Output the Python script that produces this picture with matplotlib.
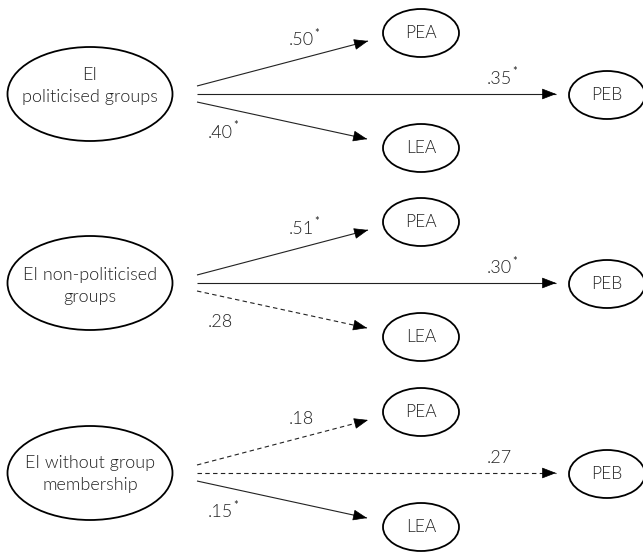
import matplotlib
matplotlib.use("Agg")
import matplotlib.pyplot as plt
from matplotlib.patches import Ellipse

# path coefficients per model
groups = ["EI\npoliticised groups", "EI non-politicised\ngroups", "EI without group\nmembership"]
targets = ["PEA", "PEB", "LEA"]
pea = [0.50, 0.51, 0.18]
peb = [0.35, 0.30, 0.27]
lea = [0.40, 0.28, 0.15]
pea_sig = [True, True, False]
peb_sig = [True, True, False]
lea_sig = [True, False, True]

INK = "#222222"
TXT = "#222222"
FONT = "Lato"
WT = 300

fig = plt.figure(figsize=(6.43, 5.6), dpi=100)
ax = fig.add_axes([0, 0, 1, 1])
ax.set_xlim(0, 643)
ax.set_ylim(560, 0)
ax.axis("off")


def fmt(v):
    return ("%.2f" % v).lstrip("0")


def coef_label(x_right, y, value, sig):
    ax.text(x_right, y, fmt(value), ha="right", va="center", fontsize=13,
            color=TXT, family=FONT, weight=WT)
    if sig:
        ax.text(x_right, y - 7, "*", ha="left", va="center", fontsize=8,
                color=TXT, family=FONT, weight=400)


def arrow(start, tip, dashed):
    ls = (0, (4, 3)) if dashed else "-"
    ax.plot([start[0], tip[0]], [start[1], tip[1]], color=INK, lw=0.8,
            linestyle=ls, solid_capstyle="butt")
    dx, dy = tip[0] - start[0], tip[1] - start[1]
    n = (dx ** 2 + dy ** 2) ** 0.5
    back = (tip[0] - dx / n * 12, tip[1] - dy / n * 12)
    ax.annotate("", xy=tip, xytext=back,
                arrowprops=dict(arrowstyle="-|>,head_length=0.9,head_width=0.35",
                                color="black", lw=0.5, shrinkA=0, shrinkB=0))


centers = [94, 283, 473]
text_dy = [-8, 3, 1]

for i, cy in enumerate(centers):
    # exogenous variable
    ax.add_patch(Ellipse((90, cy), 165, 94, fill=False, ec="black", lw=1.3))
    ax.text(90, cy + text_dy[i], groups[i], ha="center", va="center",
            fontsize=13, color=TXT, family=FONT, weight=WT, linespacing=1.5)

    # outcome nodes
    for name, (x, dy) in zip(targets, [(421, -61), (607, 1), (421, 54)]):
        ax.add_patch(Ellipse((x, cy + dy), 76, 48, fill=False, ec="black", lw=1.3))
        ax.text(x, cy + dy, name, ha="center", va="center", fontsize=12.5,
                color=TXT, family=FONT, weight=WT)

    # paths (dashed = non-significant)
    arrow((197, cy - 8), (368, cy - 53), not pea_sig[i])
    arrow((197, cy), (556, cy), not peb_sig[i])
    arrow((197, cy + 8), (367, cy + 45), not lea_sig[i])

    coef_label(314, cy - 54, pea[i], pea_sig[i])
    coef_label(512, cy - 15, peb[i], peb_sig[i])
    coef_label(233, cy + 39, lea[i], lea_sig[i])

fig.savefig("out.png", dpi=100)
